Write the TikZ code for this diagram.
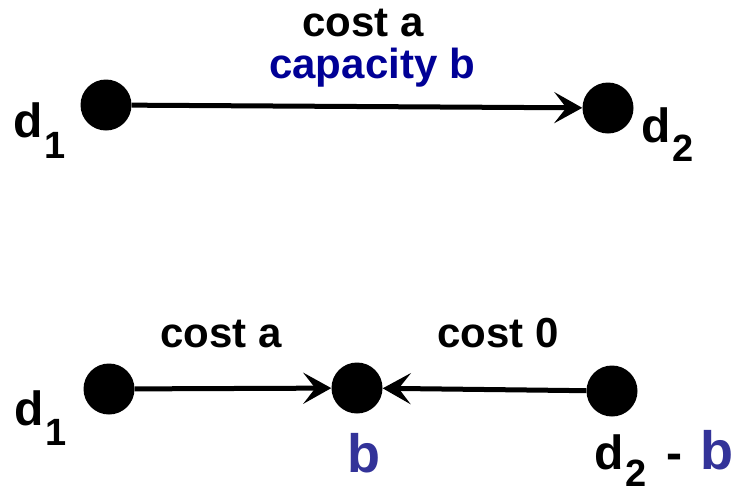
\documentclass[tikz,border=0pt]{standalone}
\usepackage{fontspec}
\setmainfont{Liberation Sans}
\usetikzlibrary{arrows.meta}
\definecolor{capblue}{RGB}{0,0,150}
\definecolor{bblue}{RGB}{51,51,153}
\newcommand{\mysub}[2][21pt]{\hspace{2pt}\raisebox{-#1}{\fontsize{38}{38}\selectfont #2}}
\tikzset{
  dot/.style={circle,fill=black,inner sep=0pt,minimum size=51pt},
  arr/.style={line width=5pt,-{Stealth[length=28pt,width=31pt,inset=12pt]}},
  lbl/.style={inner sep=0pt,font=\fontsize{42}{48}\selectfont\bfseries},
  dlbl/.style={inner sep=0pt,font=\fontsize{48}{52}\selectfont\bfseries,anchor=base west},
}
\begin{document}
\begin{tikzpicture}[x=1pt,y=-1pt]
\useasboundingbox (0,0) rectangle (740,493);
% top
\node[dot] (t1) at (106,105) {};
\node[dot] (t2) at (608,108) {};
\draw[arr] (t1) -- (t2);
\node[lbl,anchor=base] (tcost) at (363,36) {cost a};
\node[lbl,anchor=base,text=capblue] (tcap) at (372,78) {capacity b};
\node[dlbl] (td1) at (13,137) {d\mysub{1}};
\node[dlbl] (td2) at (641,142) {d\mysub[19pt]{2}};
% bottom
\node[dot] (b1) at (109,389) {};
\node[dot] (bb) at (357,388) {};
\node[dot] (b2) at (612,391) {};
\draw[arr] (b1) -- (bb);
\draw[arr] (b2) -- (bb);
\node[lbl,anchor=base] (bcosta) at (221,347) {cost a};
\node[lbl,anchor=base] (bcost0) at (498,347) {cost 0};
\node[dlbl] (bd1) at (14,425) {d\mysub[20pt]{1}};
\node[lbl,anchor=base,text=bblue,font=\fontsize{54}{56}\selectfont\bfseries] (bb-lbl) at (364,472) {b};
\node[dlbl] (bd2) at (594,469) {d\mysub[17pt]{2}\hspace{7pt} - \hspace{4pt}\textcolor{bblue}{\fontsize{54}{56}\selectfont b}};
\end{tikzpicture}
\end{document}
